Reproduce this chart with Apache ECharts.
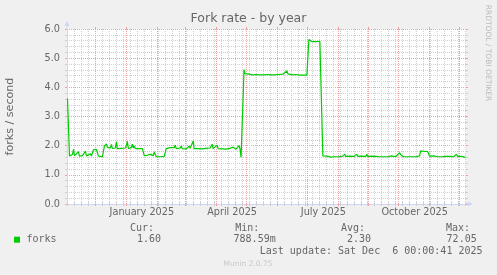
<!DOCTYPE html>
<html><head><meta charset="utf-8">
<script src="https://cdn.jsdelivr.net/npm/echarts@6/dist/echarts.min.js"></script>
<style>html,body{margin:0;padding:0;background:#f0f0f0;}#c{width:497px;height:275px;}</style>
</head><body><div id="c"></div>
<script>
// ---- data (x = days since 1 Nov 2024) ----
const chartTitle = 'Fork rate - by year';
const yAxisName = 'forks / second';
const seriesName = 'forks';
const xRange = [1.5, 401.5];
const monthStartDays = [30, 61, 92, 120, 151, 181, 212, 242, 273, 304, 334, 365, 395];
const firstSunday = 2;
const monthLabelDays = [76.5, 167, 258.5, 350];
const monthLabels = ['January 2025', 'April 2025', 'July 2025', 'October 2025'];
const yRange = [0, 6];
const forkRate = [
  [2,3.62],[3,3.60],[4,1.65],[6,1.64],[7,1.70],[8,1.87],[9,1.66],[11,1.63],[13,1.79],[14,1.64],[17,1.66],[19,1.65],[20,1.81],[21,1.65],[23,1.64],[25,1.72],[26,1.64],[27,1.66],[28,1.86],[29,1.89],[31,1.87],[32,1.85],[33,1.64],[34,1.62],[37,1.62],[38,1.64],
  [39,1.98],[40,1.93],[41,2.06],[42,1.94],[44,1.98],[45,1.92],[46,2.04],[47,1.91],[49,1.90],[50,1.92],[51,2.13],[52,1.90],[54,1.90],[56,1.91],[58,1.90],[60,1.92],[61,2.00],[62,2.15],[63,1.91],[65,1.90],[66,1.93],[67,2.05],[68,1.92],[69,1.99],[70,1.90],[72,1.96],[73,1.90],[75,1.91],[77,1.90],[78,1.88],[79,1.66],
  [80,1.64],[82,1.67],[83,1.64],[85,1.70],[86,1.65],[88,1.66],[89,1.79],[90,1.70],[91,1.62],[93,1.63],[95,1.62],[97,1.64],[99,1.63],[100,1.65],
  [101,1.90],[103,1.88],[105,1.93],[107,1.90],[109,1.93],[110,2.02],[111,1.90],[113,1.89],[115,1.92],[116,1.99],[117,1.90],[119,1.90],[121,1.89],[123,1.92],[124,1.98],[125,1.91],[127,1.91],[128,2.16],[129,1.90],[131,1.89],[133,1.90],[135,1.91],[137,1.89],[139,1.90],[141,1.91],[143,1.90],[145,1.92],[147,2.05],[148,1.90],[150,1.89],[152,2.02],[153,1.90],[155,1.91],[157,1.89],[159,1.90],[161,1.88],[163,1.90],[165,1.91],[167,1.89],[168,1.95],[169,1.90],[171,1.88],[173,1.90],[174,2.00],[175,1.88],[176,1.60],[178,1.60],
  [179,4.61],[180,4.47],[182,4.44],[184,4.45],[186,4.49],[187,4.43],[189,4.45],[191,4.44],[193,4.46],[195,4.43],[196,4.48],[197,4.44],[199,4.43],[201,4.45],[203,4.44],[205,4.46],[206,4.43],[208,4.44],[210,4.43],[212,4.45],[214,4.44],[216,4.43],[218,4.45],[220,4.47],[222,4.56],[223,4.46],[225,4.44],[227,4.43],[229,4.45],[231,4.44],[232,4.48],[233,4.43],[235,4.42],[237,4.43],[239,4.42],[242,4.42],
  [244,5.64],[245,5.62],[247,5.57],[249,5.55],[251,5.57],[253,5.58],[255,5.58],[256,5.56],[258,1.65],
  [260,1.62],[262,1.64],[264,1.63],[266,1.61],[268,1.63],[270,1.62],[272,1.64],[274,1.62],[276,1.63],[278,1.64],[280,1.71],[281,1.63],[283,1.62],[285,1.64],[287,1.62],[289,1.63],[291,1.64],[292,1.71],[293,1.63],[295,1.62],[297,1.64],[299,1.62],[301,1.63],[302,1.71],[303,1.63],[305,1.62],[307,1.64],[309,1.62],[311,1.63],[313,1.61],[315,1.62],[317,1.63],[319,1.62],[321,1.64],[323,1.62],[325,1.63],[327,1.65],[328,1.71],[329,1.63],[331,1.62],[333,1.66],[335,1.76],[336,1.69],[337,1.63],[339,1.62],[341,1.64],[343,1.62],[345,1.63],[347,1.62],[349,1.64],[351,1.62],[353,1.63],[355,1.65],[356,1.82],[358,1.79],[360,1.80],[362,1.86],[363,1.80],[365,1.64],[367,1.63],[369,1.65],[370,1.71],[371,1.64],[373,1.62],[375,1.63],[377,1.62],[379,1.64],[381,1.63],[383,1.62],[385,1.63],[387,1.64],[389,1.62],[391,1.66],[392,1.71],[393,1.63],[395,1.62],[397,1.63],[399,1.62],[401,1.60]
];
const legendHeads = ['Cur:', 'Min:', 'Avg:', 'Max:'];
const legendValues = ['1.60', '788.59m', '2.30', '72.05'];
const lastUpdate = 'Last update: Sat Dec  6 00:00:41 2025';
const watermark = 'RRDTOOL / TOBI OETIKER';
const versionText = 'Munin 2.0.75';

// ---- chart ----
const weekDays = [];
for (let d = firstSunday; d <= xRange[1]; d += 7) weekDays.push(d);

const FONT = '"DejaVu Sans", sans-serif';
const MONO = '"DejaVu Sans Mono", monospace';
const TXT = '#666666';
const AXIS = '#CFD6F8';
const MGRID = '#f0a0a0';
const GRID = '#cfcfcf';

function baseX(extra) {
  return Object.assign({
    type: 'value', min: xRange[0], max: xRange[1], gridIndex: 0,
    axisLine: { show: false }, axisLabel: { show: false },
    axisTick: { show: false }, splitLine: { show: false }
  }, extra);
}

function txt(x, y, text, align, font, fill, rotation) {
  return {
    type: 'text', x: x, y: y, rotation: rotation || 0, silent: true,
    style: { text: text, x: 0, y: 0, font: font, fill: fill,
      align: align, textAlign: align, verticalAlign: 'middle', textVerticalAlign: 'middle' }
  };
}

const headRight = [154, 259.3, 365, 470];
const valRight = [161, 275.7, 371, 476.7];
const graphics = [
  txt(248.5, 19, chartTitle, 'center', '12.5px ' + FONT, TXT),
  txt(10, 116.5, yAxisName, 'center', '11.1px ' + FONT, TXT, Math.PI / 2),
  txt(487.5, 53, watermark, 'center', '7.5px ' + FONT, '#bbbbbb', -Math.PI / 2),
  { type: 'rect', shape: { x: 14, y: 236.7, width: 6, height: 6 }, style: { fill: '#00cc00' }, silent: true },
  txt(26.5, 239.5, seriesName, 'left', '10px ' + MONO, TXT),
  txt(482.5, 251, lastUpdate, 'right', '10px ' + MONO, TXT),
  txt(248, 264.3, versionText, 'center', '7.5px ' + FONT, '#c8c8c8'),
  { type: 'line', shape: { x1: 67, y1: 29, x2: 67, y2: 25 }, style: { stroke: AXIS, lineWidth: 1 }, silent: true },
  { type: 'line', shape: { x1: 466, y1: 204, x2: 469, y2: 204 }, style: { stroke: AXIS, lineWidth: 1 }, silent: true }
];
legendHeads.forEach((h, i) => graphics.push(txt(headRight[i], 228.5, h, 'right', '10px ' + MONO, TXT)));
legendValues.forEach((v, i) => graphics.push(txt(valRight[i], 239.5, v, 'right', '10px ' + MONO, TXT)));

const chart = echarts.init(document.getElementById('c'), null, { renderer: 'canvas' });
chart.setOption({
  backgroundColor: '#f0f0f0',
  animation: false,
  grid: { left: 67, right: 31, top: 29, bottom: 71, show: true, backgroundColor: '#ffffff', borderWidth: 0, containLabel: false, outerBoundsMode: 'none' },
  xAxis: [
    baseX({ position: 'bottom', axisTick: { show: true, customValues: weekDays, length: 2, lineStyle: { color: GRID } },
      splitLine: { show: true, lineStyle: { color: GRID, width: 1, type: [1, 1] } } }),
    baseX({ position: 'top', axisTick: { show: true, customValues: weekDays, length: 2, lineStyle: { color: GRID } } }),
    baseX({ position: 'bottom', axisTick: { show: true, customValues: monthStartDays, length: 2, lineStyle: { color: MGRID } },
      splitLine: { show: true, lineStyle: { color: MGRID, width: 1, type: [1, 1] } } }),
    baseX({ position: 'top', axisTick: { show: true, customValues: monthStartDays, length: 2, lineStyle: { color: MGRID } } }),
    baseX({ position: 'bottom',
      axisLine: { show: true, lineStyle: { color: AXIS, width: 1 }, symbol: ['none', 'triangle'], symbolSize: [5, 5], symbolOffset: [0, 4.5] },
      axisLabel: { show: true, customValues: monthLabelDays, margin: 3, color: TXT, fontSize: 9.7, fontFamily: FONT,
        formatter: function (v) { const i = monthLabelDays.findIndex(d => Math.abs(d - v) < 0.01); return i >= 0 ? monthLabels[i] : ''; } } })
  ],
  yAxis: [
    { type: 'value', min: yRange[0], max: yRange[1], interval: 1, position: 'left',
      axisLine: { show: true, lineStyle: { color: AXIS, width: 1 }, symbol: ['none', 'triangle'], symbolSize: [5, 5], symbolOffset: [0, 5.5] },
      axisTick: { show: true, length: 2, lineStyle: { color: MGRID } },
      minorTick: { show: true, splitNumber: 5, length: 2, lineStyle: { color: GRID } },
      axisLabel: { margin: 7, color: TXT, fontSize: 9.7, fontFamily: FONT, formatter: v => v.toFixed(1) },
      splitLine: { show: true, lineStyle: { color: MGRID, width: 1, type: [1, 1] } },
      minorSplitLine: { show: true, lineStyle: { color: GRID, width: 1, type: [1, 1] } } },
    { type: 'value', min: yRange[0], max: yRange[1], interval: 1, position: 'right',
      axisLine: { show: false }, axisLabel: { show: false }, splitLine: { show: false },
      axisTick: { show: true, length: 2, lineStyle: { color: MGRID } },
      minorTick: { show: true, splitNumber: 5, length: 2, lineStyle: { color: GRID } } }
  ],
  series: [{
    name: seriesName, type: 'line', xAxisIndex: 4, yAxisIndex: 0, data: forkRate,
    showSymbol: false, symbol: 'none', z: 10,
    lineStyle: { color: '#00cc00', width: 1.2 }, itemStyle: { color: '#00cc00' }
  }],
  graphic: { elements: graphics }
});
</script></body></html>
